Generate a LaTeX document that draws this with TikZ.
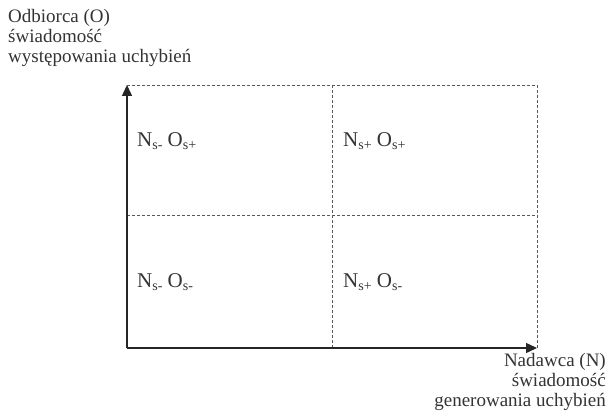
\documentclass[tikz,border=0pt]{standalone}
\usepackage{fontspec}
\setmainfont{Liberation Serif}
\usetikzlibrary{arrows.meta}
\newcommand{\qsub}[1]{\raisebox{-3pt}{\fontsize{14}{14}\selectfont #1}}
\begin{document}
\begin{tikzpicture}[x=1pt,y=1pt,
  axis/.style={line width=1.4pt,draw=black!85,-{Triangle[length=11pt,width=10pt]}},
  grid/.style={line width=0.6pt,draw=black!65,dash pattern=on 3pt off 2pt},
  axlabel/.style={inner sep=0pt,text=black!80,font=\fontsize{19}{20}\selectfont},
  quad/.style={inner sep=0pt,anchor=base west,text=black!80,font=\fontsize{21}{21}\selectfont}]
\useasboundingbox (0,0) rectangle (609,415);
\coordinate (o) at (127,67);
\coordinate (t) at (127,330);
\coordinate (r) at (537,67);
\coordinate (tr) at (537,330);
\coordinate (mt) at (332,330);
\coordinate (mb) at (332,67);
\coordinate (ml) at (127,200);
\coordinate (mr) at (537,200);
\draw[grid] (t) -- (tr) -- (r);
\draw[grid] (mt) -- (mb);
\draw[grid] (ml) -- (mr);
\draw[axis] (o) -- (t);
\draw[axis] (o) -- (r);
\node[quad] (q1) at (137,268) {N\qsub{s-} O\qsub{s+}};
\node[quad] (q2) at (343,268) {N\qsub{s+} O\qsub{s+}};
\node[quad] (q3) at (137,128) {N\qsub{s-} O\qsub{s-}};
\node[quad] (q4) at (343,128) {N\qsub{s+} O\qsub{s-}};
\node[axlabel,anchor=north west,align=left] (ylab) at (8,405.5) {Odbiorca (O)\\świadomość\\występowania uchybień};
\node[axlabel,anchor=north east,align=right] (xlab) at (606,61.5) {Nadawca (N)\\świadomość\\generowania uchybień};
\end{tikzpicture}
\end{document}
